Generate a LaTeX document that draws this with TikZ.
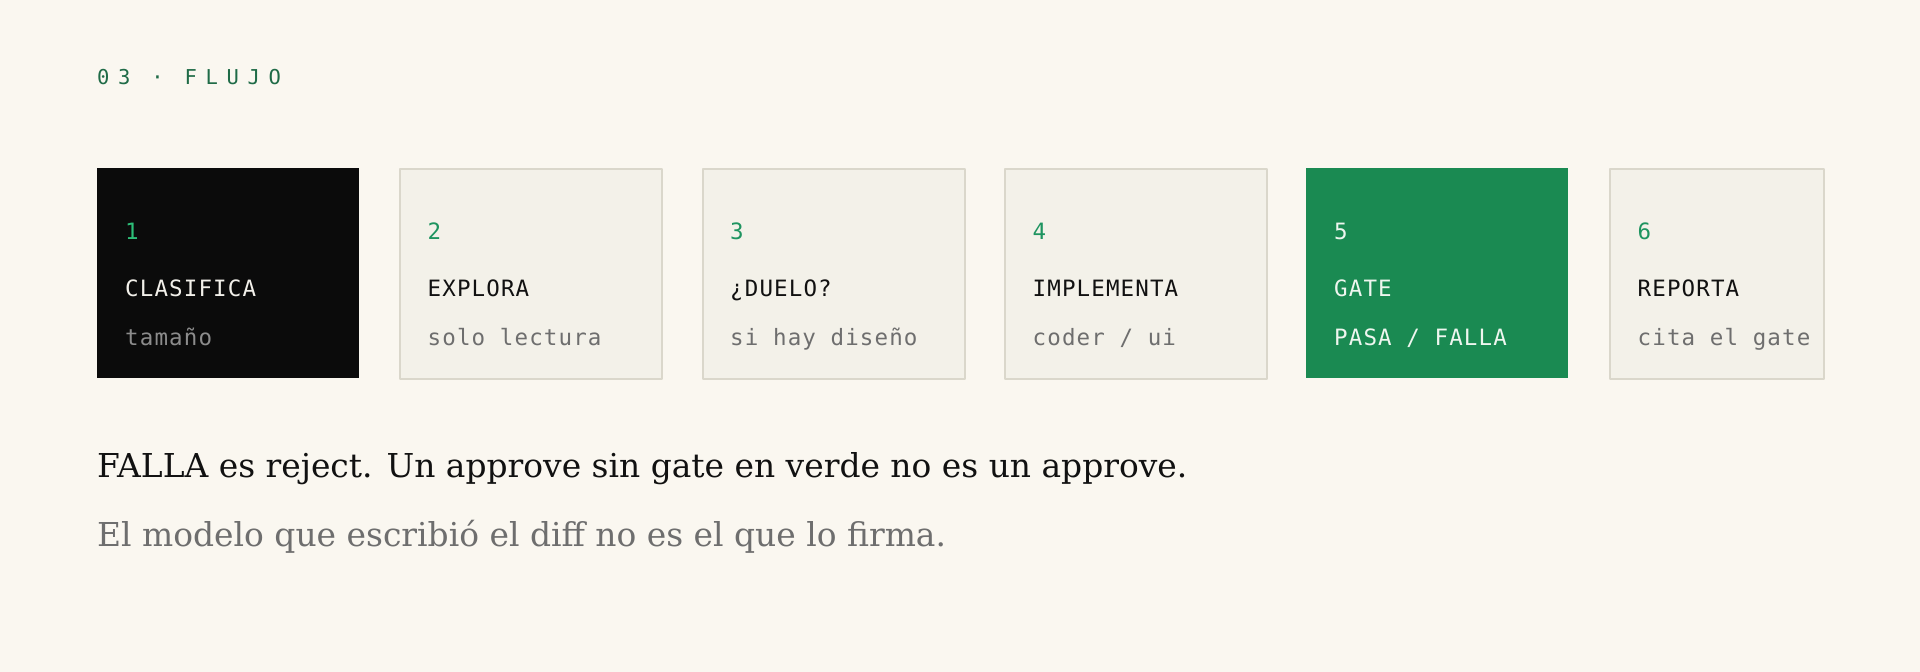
\documentclass[tikz,border=0pt]{standalone}
\usepackage{fontspec}
\setmainfont{DejaVu Serif}
\newfontfamily\boxfont{DejaVu Sans Mono}[LetterSpace=5]
\newfontfamily\kickerfont{DejaVu Sans Mono}[LetterSpace=42]
\usepackage{color}

\definecolor{paper}{HTML}{FAF7F0}
\definecolor{kicker}{HTML}{1F6B47}
\definecolor{ink}{HTML}{111111}
\definecolor{muted}{HTML}{6E6E6E}
\definecolor{cardfill}{HTML}{F3F1E9}
\definecolor{cardline}{HTML}{DAD7CB}
\definecolor{stepgreen}{HTML}{1E9460}
\definecolor{brightgreen}{HTML}{2DBE78}
\definecolor{gatefill}{HTML}{1A8A52}
\definecolor{gatetext}{HTML}{EEF6EF}
\definecolor{darkfill}{HTML}{0B0B0B}
\definecolor{darktext}{HTML}{F2F0EA}
\definecolor{darkmuted}{HTML}{8C8C8C}

\begin{document}
\begin{tikzpicture}[line cap=round,line join=round,x=1pt,y=1pt,
  card/.style={rectangle,anchor=north west,inner sep=0pt,minimum width=262,minimum height=210},
  lightcard/.style={card,fill=cardfill,draw=cardline,line width=2pt},
  darkcard/.style={card,fill=darkfill},
  gatecard/.style={card,fill=gatefill},
  cardtext/.style={anchor=base west,inner sep=0pt,font=\boxfont\fontsize{22.5}{27}\selectfont},
  num/.style={cardtext,text=stepgreen},
  label/.style={cardtext,text=ink},
  sub/.style={cardtext,text=muted}]
\useasboundingbox (0,0) rectangle (1920,672);
\fill[paper] (0,0) rectangle (1920,672);
%
\node[anchor=base west,inner sep=0pt,text=kicker,font=\kickerfont\fontsize{20.5}{24}\selectfont] (kick) at (97,587) {03 · FLUJO};
%
\node[darkcard] (c1) at (96.5,504.5) {};
\node[lightcard] (c2) at (399,503.5) {};
\node[lightcard] (c3) at (701.5,503.5) {};
\node[lightcard] (c4) at (1004,503.5) {};
\node[gatecard] (c5) at (1305.5,504.5) {};
\node[lightcard,minimum width=214] (c6) at (1609,503.5) {};
%
\node[num,text=brightgreen] (n1) at ([shift={(28.5,-72.5)}]c1.north west) {1};
\node[label,text=darktext] (t1) at ([shift={(28.5,-129.5)}]c1.north west) {CLASIFICA};
\node[sub,text=darkmuted] (s1) at ([shift={(28.5,-178.5)}]c1.north west) {tamaño};
%
\node[num] (n2) at ([shift={(28.5,-71.5)}]c2.north west) {2};
\node[label] (t2) at ([shift={(28.5,-128.5)}]c2.north west) {EXPLORA};
\node[sub] (s2) at ([shift={(28.5,-177.5)}]c2.north west) {solo lectura};
%
\node[num] (n3) at ([shift={(28.5,-71.5)}]c3.north west) {3};
\node[label] (t3) at ([shift={(28.5,-128.5)}]c3.north west) {¿DUELO?};
\node[sub] (s3) at ([shift={(28.5,-177.5)}]c3.north west) {si hay diseño};
%
\node[num] (n4) at ([shift={(28.5,-71.5)}]c4.north west) {4};
\node[label] (t4) at ([shift={(28.5,-128.5)}]c4.north west) {IMPLEMENTA};
\node[sub] (s4) at ([shift={(28.5,-177.5)}]c4.north west) {coder / ui};
%
\node[num,text=gatetext] (n5) at ([shift={(28.5,-72.5)}]c5.north west) {5};
\node[label,text=gatetext] (t5) at ([shift={(28.5,-129.5)}]c5.north west) {GATE};
\node[sub,text=gatetext] (s5) at ([shift={(28.5,-178.5)}]c5.north west) {PASA / FALLA};
%
\node[num] (n6) at ([shift={(28.5,-71.5)}]c6.north west) {6};
\node[label] (t6) at ([shift={(28.5,-128.5)}]c6.north west) {REPORTA};
\node[sub] (s6) at ([shift={(28.5,-177.5)}]c6.north west) {cita el gate};
%
\node[anchor=base west,inner sep=0pt,text=ink,font=\fontsize{32.9}{40}\selectfont] (rule) at (97,194) {FALLA es reject. Un approve sin gate en verde no es un approve.};
\node[anchor=base west,inner sep=0pt,text=muted,font=\fontsize{32.9}{40}\selectfont] (note) at (97,125) {El modelo que escribió el diff no es el que lo firma.};
\end{tikzpicture}
\end{document}
